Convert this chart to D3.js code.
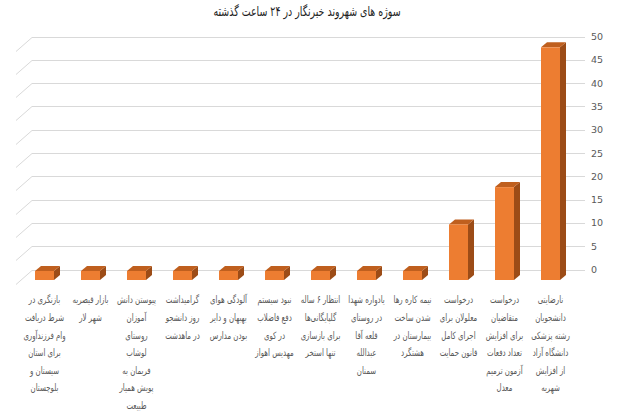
<!DOCTYPE html>
<html><head><meta charset="utf-8">
<script src="https://cdn.jsdelivr.net/npm/d3@7"></script>
<style>body{margin:0;background:#fff}svg{display:block}</style>
</head><body>
<svg id="c" width="620" height="420"></svg>
<script>
const title = "سوژه های شهروند خبرنگار در ۲۴ ساعت گذشته";
const categories = [
  ["بازنگری در","شرط دریافت","وام فرزندآوری","برای استان","سیستان و","بلوچستان"],
  ["بازار قیصریه","شهر لار"],
  ["پیوستن دانش","آموزان","روستای","لوشاب","فریمان به","پویش همیار","طبیعت"],
  ["گرامیداشت","روز دانشجو","در ماهدشت"],
  ["آلودگی هوای","بهبهان و دایر","بودن مدارس"],
  ["نبود سیستم","دفع فاضلاب","در کوی","مهدیس اهواز"],
  ["انتظار ۶ ساله","گلپایگانی‌ها","برای بازسازی","تنها استخر"],
  ["یادواره شهدا","در روستای","قلعه آقا","عبدالله","سمنان"],
  ["نیمه کاره رها","شدن ساخت","بیمارستان در","هشتگرد"],
  ["درخواست","معلولان برای","اجرای کامل","قانون حمایت"],
  ["درخواست","متقاضیان","برای افزایش","تعداد دفعات","آزمون ترمیم","معدل"],
  ["نارضایتی","دانشجویان","رشته پزشکی","دانشگاه آزاد","از افزایش","شهریه"]
];
const values = [0,0,0,0,0,0,0,0,0,10,18,48];
const yTicks = [0,5,10,15,20,25,30,35,40,45,50];

const svg = d3.select("#c");
const font = "'DejaVu Sans', sans-serif";
const keys = categories.map((c,i)=>i);
const x = d3.scaleBand().domain(keys).range([21.5,573.5]).paddingInner(27/46).paddingOuter(27/92);
const y = d3.scaleLinear().domain([0,50]).range([269.5,36.5]);
const dx = 6, dy = 5, base = 280;

svg.append("text").attr("transform","translate(307,16) scale(0.7,1)").attr("text-anchor","middle")
  .attr("direction","rtl").attr("font-family",font).attr("font-size",13.5)
  .attr("fill","#1f1f1f").text(title);

// gridlines (back wall + side floor diagonals)
const g = svg.append("g");
yTicks.forEach(t=>{
  const yy = Math.round(y(t))+0.5;
  g.append("line").attr("x1",32).attr("x2",585).attr("y1",yy).attr("y2",yy).attr("stroke","#d9d9d9").attr("stroke-width",1);
  g.append("line").attr("x1",32).attr("x2",16).attr("y1",yy).attr("y2",yy+14).attr("stroke","#d9d9d9").attr("stroke-width",1);
});
// y axis labels
svg.append("g").selectAll("text").data(yTicks).join("text")
  .attr("x",591).attr("y",d=>y(d)+3.5).attr("font-family",font).attr("font-size",9.5)
  .attr("fill","#595959").text(d=>d);

// bars
const bw = x.bandwidth();
const bars = svg.append("g").selectAll("g").data(values).join("g");
bars.each(function(v,i){
  const gg = d3.select(this);
  const x0 = x(i);
  const top = Math.min(y(v)+1.5, base-4);
  gg.append("path").attr("d",`M${x0+bw},${top}L${x0+bw+dx},${top-dy}L${x0+bw+dx},${base-dy}L${x0+bw},${base}Z`).attr("fill","#9c4c17");
  gg.append("path").attr("d",`M${x0},${top}L${x0+dx},${top-dy}L${x0+bw+dx},${top-dy}L${x0+bw},${top}Z`).attr("fill","#bf5f1e");
  gg.append("rect").attr("x",x0).attr("y",top).attr("width",bw).attr("height",base-top).attr("fill","#ed7d31");
});

// category labels
const lab = svg.append("g").selectAll("text").data(categories).join("text")
  .attr("transform",(d,i)=>`translate(${x(i)+bw/2},0) scale(0.7,1)`)
  .attr("text-anchor","middle").attr("direction","rtl").attr("font-family",font)
  .attr("font-size",10).attr("fill","#595959");
lab.each(function(lines,i){
  const t = d3.select(this);
  lines.forEach((ln,k)=>{
    t.append("tspan").attr("x",0).attr("y",303.5+k*17.6).text(ln);
  });
});
</script>
</body></html>
